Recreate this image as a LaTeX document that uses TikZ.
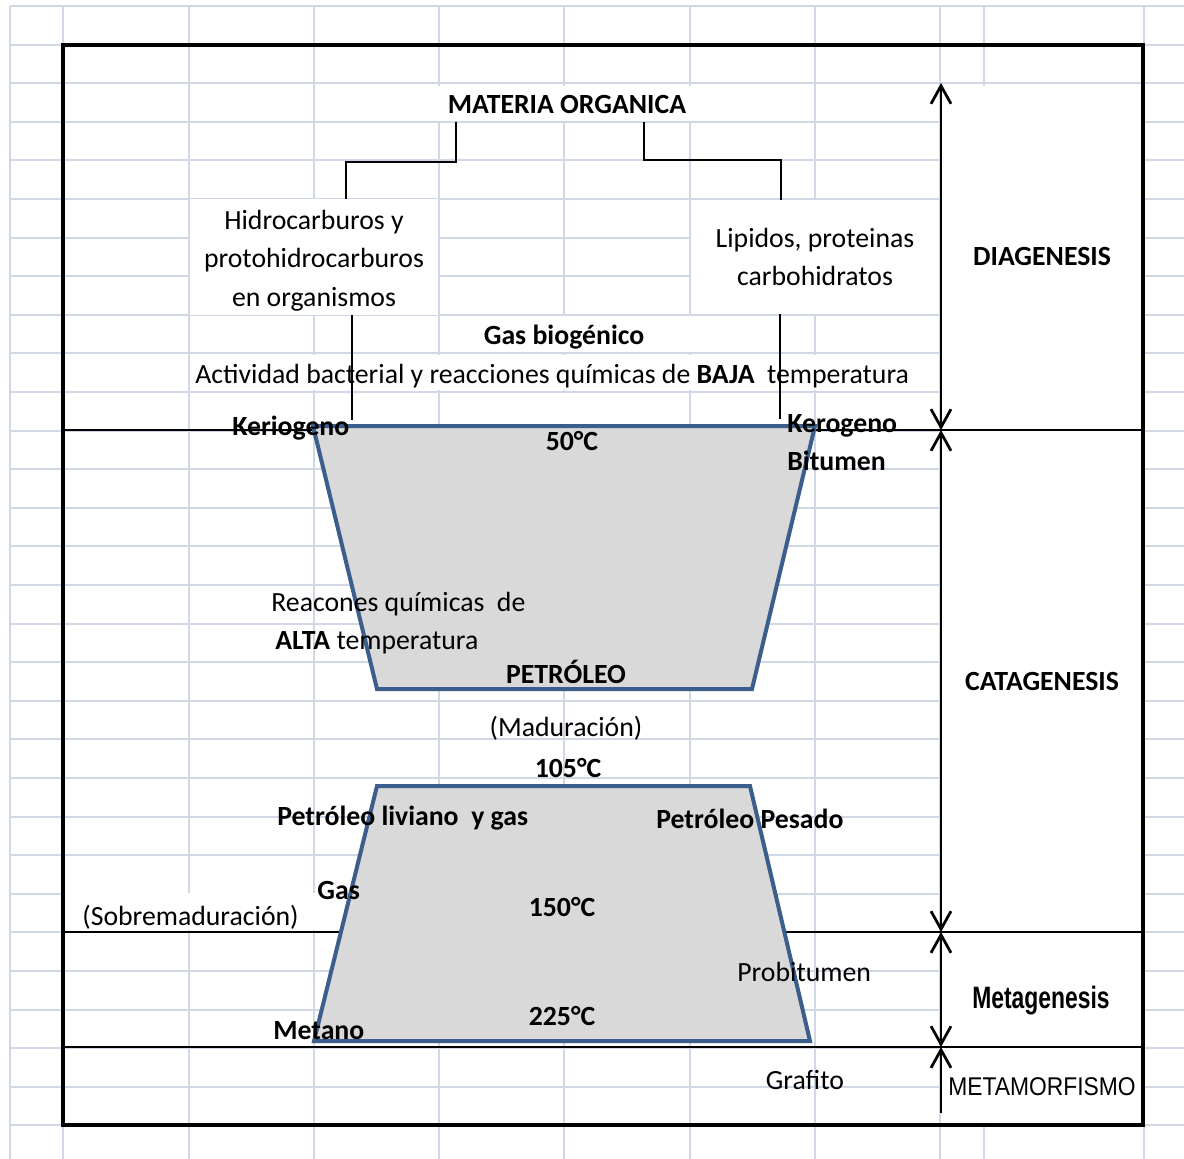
\documentclass[tikz,border=0pt]{standalone}
\usepackage{fontspec}
\setmainfont{Carlito}
\newfontfamily\arialfont{Liberation Sans}
\usetikzlibrary{arrows.meta}

\definecolor{gridblue}{HTML}{D0D7E5}
\definecolor{shapefill}{HTML}{D9D9D9}
\definecolor{shapeline}{HTML}{3B5E8C}

\begin{document}
\begin{tikzpicture}[x=0.02cm, y=-0.02cm,
    lbl/.style={inner sep=0pt, font=\fontsize{15.8pt}{21.96pt}\selectfont, text height=0.36cm, text depth=0pt},
    blbl/.style={lbl, font=\fontsize{15.8pt}{21.96pt}\selectfont\bfseries},
    cellbox/.style={fill=white, inner sep=0pt, align=center, minimum width=4.96cm, minimum height=2.28cm,
        font=\fontsize{15.8pt}{21.96pt}\selectfont},
    zone/.style={line width=0.04cm},
    link/.style={line width=0.045cm},
    stage/.style={line width=0.055cm},
    barb/.tip={Straight Barb[length=0.36cm,width=0.4cm]},
    oil/.style={fill=shapefill, draw=shapeline, line width=0.08cm, line join=miter}
]
    \useasboundingbox (0,0) rectangle (1184,1159);
    \fill[white] (0,0) rectangle (1184,1159);
    % sheet grid
    \foreach \gx in {10,63,189,314,439,564,690,815,940,984,1144}
        \draw[gridblue, line width=0.04cm] (\gx,6) -- (\gx,1159);
    \foreach \k in {0,...,30}
        \draw[gridblue, line width=0.04cm] (10,{6+38.6*\k}) -- (1184,{6+38.6*\k});
    % cells that hide the grid
    \fill[white] (941,86) rectangle (1143,1124);
    \fill[white] (437,86) rectangle (813,121);
    \fill[white] (441,316) rectangle (813,352);
    \fill[white] (191,355) rectangle (938,390);
    \fill[white] (441,393) rectangle (688,428);
    \fill[white] (65,893) rectangle (340,930);
    % frame and zone limits
    \draw[line width=0.08cm] (63,45) rectangle (1143,1125);
    \foreach \zy in {430,932,1047}
        \draw[zone] (63,\zy) -- (1143,\zy);
    % oil window shapes
    \coordinate (a1) at (313,426);
    \coordinate (a2) at (815,426);
    \coordinate (a3) at (752,689);
    \coordinate (a4) at (377,689);
    \draw[oil] (a1) -- (a2) -- (a3) -- (a4) -- cycle;
    \coordinate (b1) at (377,786);
    \coordinate (b2) at (750,786);
    \coordinate (b3) at (810,1041);
    \coordinate (b4) at (314,1041);
    \draw[oil] (b1) -- (b2) -- (b3) -- (b4) -- cycle;
    % stages
    \coordinate (s0) at (941,83);
    \coordinate (s1) at (941,430);
    \coordinate (s2) at (941,932);
    \coordinate (s3) at (941,1047);
    \coordinate (s4) at (941,1113);
    \draw[stage, barb-barb] (s0) -- (s1);
    \draw[stage, barb-barb] (s1) -- (s2);
    \draw[stage, barb-barb] (s2) -- (s3);
    \draw[stage, barb-] (s3) -- (s4);
    \node[blbl] (diag) at (1042,257) {DIAGENESIS};
    \node[blbl] (cata) at (1042,681) {CATAGENESIS};
    \node[inner sep=0pt, text height=0.44cm, text depth=0pt] (meta) at (1041,997)
        {\arialfont\bfseries\fontsize{17.6pt}{20pt}\selectfont\scalebox{0.74}[1]{Metagenesis}};
    \node[inner sep=0pt, anchor=west, text height=0.366cm, text depth=0pt] (metam) at (948,1086)
        {\arialfont\fontsize{14.6pt}{17pt}\selectfont\scalebox{0.89}[1]{METAMORFISMO}};
    % organic matter
    \node[blbl, inner ysep=0.16cm] (mo) at (567,105) {MATERIA ORGANICA};
    \node[cellbox] (hidro) at (314,257)
        {\rule{0pt}{0.6cm}Hidrocarburos y\\protohidrocarburos\\en organismos\rule[-0.16cm]{0pt}{0pt}};
    \node[cellbox] (lipi) at (815,257)
        {\rule{0pt}{0.54cm}Lipidos, proteinas\\carbohidratos\rule[-0.16cm]{0pt}{0pt}};
    \node[blbl] (gasbio) at (564,336) {Gas biogénico};
    \node[lbl, anchor=west] (activ) at (195,374) {Actividad bacterial y reacciones químicas de \textbf{BAJA}\ \ temperatura};
    \node[blbl, anchor=west] (kerio) at (232,427) {Keriogeno};
    \node[blbl, anchor=west] (kero) at (787,424) {Kerogeno};
    \node[blbl, anchor=west] (bitu) at (787,461) {Bitumen};
    \node[blbl] (t50) at (572,441) {50°C};
    \node[lbl, anchor=west] (reac) at (271,602) {Reacones químicas\ \ de};
    \node[lbl, anchor=west] (alta) at (275,640) {\textbf{ALTA} temperatura};
    \node[blbl] (petro) at (566,674) {PETRÓLEO};
    \node[lbl] (madur) at (566,727) {(Maduración)};
    \node[blbl] (t105) at (568,768) {105°C};
    \node[blbl, anchor=west] (livi) at (277,816) {Petróleo liviano\ \ y gas};
    \node[blbl, anchor=west] (pesa) at (656,819) {Petróleo Pesado};
    \node[blbl, anchor=west] (gas) at (317,890) {Gas};
    \node[lbl, anchor=west] (sobre) at (82,916) {(Sobremaduración)};
    \node[blbl] (t150) at (562,907) {150°C};
    \node[lbl, anchor=west] (probi) at (737,972) {Probitumen};
    \node[blbl] (t225) at (562,1016) {225°C};
    \node[blbl, anchor=west] (metano) at (273,1030) {Metano};
    \node[lbl] (grafito) at (805,1080) {Grafito};
    % connectors
    \draw[link] (mo.south -| 456,0) |- (346,162) -- (hidro.north -| 346,0);
    \draw[link] (mo.south -| 644,0) |- (781,160) -- (lipi.north -| 781,0);
    \draw[link, shorten >=0.12cm] (hidro.south -| 352,0) -- (a1 -| 352,0);
    \draw[link, shorten >=0.14cm] (lipi.south -| 780,0) -- (a1 -| 780,0);
\end{tikzpicture}
\end{document}
